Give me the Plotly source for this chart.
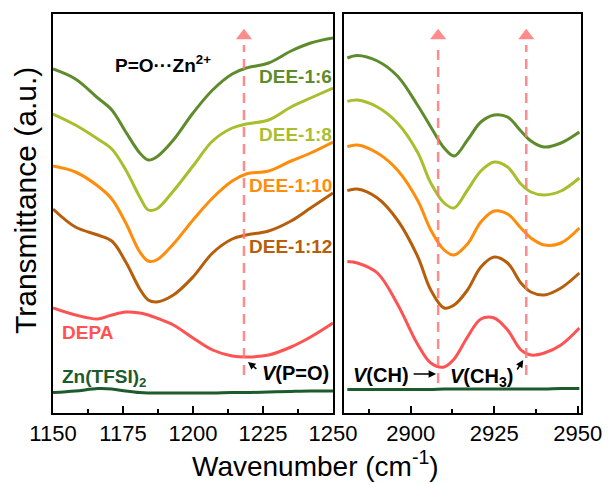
import plotly.graph_objects as go

# ---------------- data (transmittance in arbitrary units, offset per sample) ----------------
# P=O stretching region
wn_po = [1150, 1158, 1166, 1171, 1176, 1181, 1184, 1187, 1193, 1200,
         1207, 1214, 1219, 1227, 1235, 1242, 1250]
po_dee_1_6 = [86.0, 83.5, 78.75, 75.75, 70.25, 65.0, 63.25, 64.0, 68.25, 75.0,
              80.75, 84.75, 86.25, 87.5, 90.5, 92.5, 93.75]
po_dee_1_8 = [74.75, 72.0, 68.5, 66.0, 60.75, 54.0, 50.75, 51.0, 55.5, 61.75,
              68.0, 71.25, 72.25, 73.25, 76.5, 78.75, 81.25]
po_dee_1_10 = [61.75, 60.25, 56.75, 53.5, 47.5, 40.25, 38.0, 38.25, 42.25, 48.25,
               53.75, 58.0, 59.75, 60.5, 63.0, 65.0, 67.75]
po_dee_1_12 = [51.0, 46.5, 44.5, 43.0, 37.75, 31.0, 28.25, 27.75, 29.5, 34.0,
               40.0, 43.5, 44.5, 45.5, 48.0, 51.25, 55.0]
po_depa = [26.25, 24.5, 23.5, 24.5, 25.25, 25.0, 24.5, 23.75, 22.0, 18.75,
           15.75, 14.25, 14.0, 14.5, 16.5, 19.0, 22.5]
po_zn_tfsi = [5.1, 5.5, 6.1, 6.0, 5.5, 5.1, 5.0, 5.0, 5.0, 5.0,
              5.0, 5.1, 5.1, 5.25, 5.4, 5.5, 5.5]

# C-H stretching region
wn_ch = [2881, 2884, 2890, 2896, 2902, 2906, 2910, 2913, 2917, 2921,
         2925, 2929, 2933, 2936, 2940, 2945, 2950.5]
ch_dee_1_6 = [88.75, 89.4, 88.0, 84.25, 77.0, 71.5, 66.25, 64.25, 68.25, 72.75,
              74.5, 74.0, 70.5, 68.0, 66.5, 67.5, 70.25]
ch_dee_1_8 = [77.9, 78.25, 76.5, 72.5, 65.25, 57.5, 52.5, 51.25, 55.75, 60.5,
              62.75, 61.5, 57.25, 55.25, 54.5, 55.5, 58.75]
ch_dee_1_10 = [66.6, 67.0, 65.0, 60.75, 53.25, 45.75, 40.75, 39.5, 42.25, 47.75,
               50.5, 49.75, 46.25, 43.75, 42.0, 42.5, 46.25]
ch_dee_1_12 = [55.6, 56.0, 53.75, 48.25, 39.25, 30.75, 26.25, 27.0, 30.75, 36.5,
               39.0, 37.5, 32.5, 30.25, 29.5, 31.25, 35.0]
ch_depa = [37.9, 37.5, 35.0, 27.25, 17.25, 12.5, 11.5, 13.5, 19.0, 23.5,
           23.75, 20.75, 15.75, 14.5, 15.0, 17.0, 21.25]
ch_zn_tfsi = [5.9, 5.9, 5.9, 5.9, 5.9, 5.9, 6.0, 6.0, 6.0, 6.0,
              6.0, 6.0, 6.0, 6.0, 6.0, 6.1, 6.1]

# marked band positions (cm-1) and where their guide lines start
po_band = [1218.2]
po_band_base = [9.5]
ch_bands = [2908.2, 2934.6]
ch_bands_base = [7.5, 9.5]
guide_top = 92.0
guide_tip = 94.3

left_ticks = [1150, 1175, 1200, 1225, 1250]
right_ticks = [2900, 2925, 2950]

samples = ["DEE-1:6", "DEE-1:8", "DEE-1:10", "DEE-1:12", "DEPA", "Zn(TFSI)<sub>2</sub>"]
colors = ["#5E8B2B", "#A9BE2E", "#FF8C0A", "#B65E0C", "#FF5252", "#1D5A2C"]
po_series = [po_dee_1_6, po_dee_1_8, po_dee_1_10, po_dee_1_12, po_depa, po_zn_tfsi]
ch_series = [ch_dee_1_6, ch_dee_1_8, ch_dee_1_10, ch_dee_1_12, ch_depa, ch_zn_tfsi]

W, H = 616, 484
FONT = "Liberation Sans, Arial, sans-serif"
GUIDE = "rgba(255,120,120,0.85)"


def fx(p):
    return p / W


def fy(p):
    return 1 - p / H


fig = go.Figure()

for ys, c in zip(po_series, colors):
    fig.add_trace(go.Scatter(x=wn_po, y=ys, mode="lines", xaxis="x", yaxis="y",
                             line=dict(color=c, width=3, shape="spline", smoothing=1.0),
                             showlegend=False, hoverinfo="skip"))
for ys, c in zip(ch_series, colors):
    fig.add_trace(go.Scatter(x=wn_ch, y=ys, mode="lines", xaxis="x2", yaxis="y2",
                             line=dict(color=c, width=3, shape="spline", smoothing=1.0),
                             showlegend=False, hoverinfo="skip"))

# dashed guide arrows at the band positions
for bands, bases, xa, ya in [(po_band, po_band_base, "x", "y"),
                             (ch_bands, ch_bands_base, "x2", "y2")]:
    for b, base in zip(bands, bases):
        fig.add_trace(go.Scatter(x=[b, b], y=[base, guide_top], mode="lines",
                                 xaxis=xa, yaxis=ya,
                                 line=dict(color=GUIDE, width=2.5, dash="10px,7px"),
                                 showlegend=False, hoverinfo="skip"))
        fig.add_trace(go.Scatter(x=[b], y=[guide_tip], mode="markers",
                                 xaxis=xa, yaxis=ya,
                                 marker=dict(symbol="triangle-up", size=14, color=GUIDE,
                                             line=dict(width=0)),
                                 showlegend=False, hoverinfo="skip"))

axis_common = dict(showline=True, linecolor="black", linewidth=1.8, mirror=True,
                   showgrid=False, zeroline=False, automargin=False,
                   tickfont=dict(family=FONT, size=22, color="black"))

fig.update_layout(
    width=W, height=H,
    margin=dict(l=0, r=0, t=0, b=0, autoexpand=False),
    paper_bgcolor="white", plot_bgcolor="white",
    xaxis=dict(domain=[fx(53), fx(333)], range=[1150, 1250], anchor="y",
               tickmode="array", tickvals=left_ticks, ticks="inside", ticklen=7,
               tickwidth=1.5, tickcolor="black",
               minor=dict(dtick=12.5, tick0=1150, ticks="inside", ticklen=4,
                          tickwidth=1.5, tickcolor="black"),
               **axis_common),
    xaxis2=dict(domain=[fx(344), fx(581)], range=[2880, 2951], anchor="y2",
                tickmode="array", tickvals=right_ticks, ticks="inside", ticklen=7,
                tickwidth=1.5, tickcolor="black",
                minor=dict(dtick=12.5, tick0=2875, ticks="inside", ticklen=4,
                           tickwidth=1.5, tickcolor="black"),
                **axis_common),
    yaxis=dict(domain=[fy(413), fy(14)], range=[0, 99.75], anchor="x",
               showticklabels=False, ticks="", **axis_common),
    yaxis2=dict(domain=[fy(413), fy(14)], range=[0, 99.75], anchor="x2",
                showticklabels=False, ticks="", **axis_common),
)

ann = []


def label(text, x, y, color="black", size=19, xanchor="center"):
    ann.append(dict(text=text, x=fx(x), y=fy(y), xref="paper", yref="paper",
                    xanchor=xanchor, yanchor="middle", showarrow=False,
                    font=dict(family=FONT, size=size, color=color)))


# sample names
label("<b>DEE-1:6</b>", 334, 77, colors[0], xanchor="right")
label("<b>DEE-1:8</b>", 334, 134, colors[1], xanchor="right")
label("<b>DEE-1:10</b>", 334, 185, colors[2], xanchor="right")
label("<b>DEE-1:12</b>", 334, 246, colors[3], xanchor="right")
label("<b>DEPA</b>", 60, 332, colors[4], xanchor="left")
label("<b>Zn(TFSI)<sub>2</sub></b>", 60, 378, colors[5], xanchor="left")
label("<b>P=O···Zn<sup>2+</sup></b>", 113, 64, xanchor="left")

# band assignments
label("<b><i>V</i>(P=O)</b>", 260, 373, size=20, xanchor="left")
label("<b><i>V</i>(CH)</b>", 351, 375, size=20, xanchor="left")
label("<b><i>V</i>(CH<sub>3</sub>)</b>", 448, 377, size=20, xanchor="left")

# small pointer arrows from the assignments to the bands
for xref, yref, x, y, ax, ay in [("x", "y", 1219.6, 12.75, 10, 8),
                                 ("x2", "y2", 2907.6, 9.75, -24, 0),
                                 ("x2", "y2", 2933.7, 13.25, -7, 11)]:
    ann.append(dict(text="", x=x, y=y, xref=xref, yref=yref, ax=ax, ay=ay,
                    showarrow=True, arrowhead=2, arrowsize=1, arrowwidth=1.5,
                    arrowcolor="black"))

# axis titles
label("Transmittance (a.u.)", 25, 201, size=30)
ann[-1]["textangle"] = -90
label("Wavenumber (cm<sup>-1</sup>)", 315, 464, size=28)

fig.update_layout(annotations=ann)

fig.write_html("out.html")
